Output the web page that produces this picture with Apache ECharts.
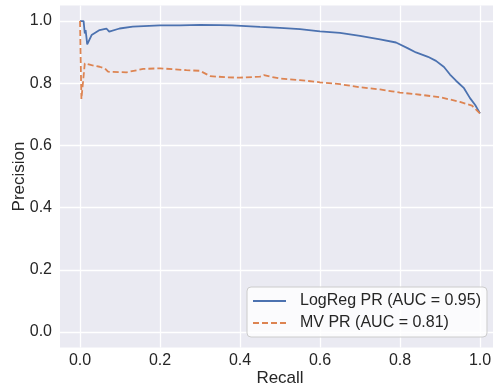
<!DOCTYPE html>
<html>
<head>
<meta charset="utf-8">
<script src="https://cdn.jsdelivr.net/npm/echarts@6/dist/echarts.min.js"></script>
<style>
  html, body { margin: 0; padding: 0; background: #fff; }
  #chart { width: 493px; height: 388px; }
</style>
</head>
<body>
<div id="chart"></div>
<script>
// values
const tickValues = [0, 0.2, 0.4, 0.6, 0.8, 1.0];

const logRegRecall = [0, 0.009, 0.012, 0.014, 0.016, 0.018, 0.029, 0.049, 0.066, 0.073, 0.099, 0.132, 0.2, 0.25, 0.3, 0.35, 0.38, 0.385, 0.45, 0.5, 0.55, 0.6, 0.65, 0.7, 0.75, 0.79, 0.82, 0.84, 0.87, 0.89, 0.91, 0.925, 0.94, 0.96, 0.975, 0.988, 1.0];
const logRegPrecision = [1.0, 1.0, 0.96, 0.971, 0.949, 0.925, 0.955, 0.971, 0.976, 0.966, 0.976, 0.982, 0.986, 0.986, 0.988, 0.987, 0.986, 0.98, 0.981, 0.978, 0.974, 0.967, 0.962, 0.952, 0.941, 0.931, 0.912, 0.899, 0.885, 0.872, 0.852, 0.828, 0.808, 0.784, 0.752, 0.73, 0.703];

const mvRecall = [0, 0.0035, 0.012, 0.029, 0.049, 0.062, 0.07, 0.116, 0.158, 0.2, 0.266, 0.3, 0.325, 0.366, 0.4, 0.45, 0.46, 0.48, 0.5, 0.55, 0.6, 0.65, 0.7, 0.75, 0.78, 0.8, 0.85, 0.9, 0.95, 0.98, 1.0];
const mvPrecision = [1.0, 0.749, 0.864, 0.858, 0.853, 0.848, 0.837, 0.835, 0.846, 0.848, 0.842, 0.84, 0.823, 0.819, 0.818, 0.821, 0.826, 0.82, 0.815, 0.81, 0.803, 0.797, 0.787, 0.78, 0.774, 0.77, 0.763, 0.755, 0.74, 0.728, 0.703];

const seriesNames = ['LogReg PR (AUC = 0.95)', 'MV PR (AUC = 0.81)'];

const textColor = '#262626';
const font = "'Liberation Sans', Arial, sans-serif";

const chart = echarts.init(document.getElementById('chart'), null, { renderer: 'canvas' });

const option = {
  animation: false,
  backgroundColor: '#ffffff',
  grid: {
    left: 60,
    top: 5.5,
    width: 440,
    height: 342,
    outerBoundsMode: 'none',
    containLabel: false,
    show: true,
    backgroundColor: '#EAEAF2',
    borderWidth: 0
  },
  xAxis: {
    type: 'value',
    min: -0.05,
    max: 1.05,
    name: 'Recall',
    nameLocation: 'middle',
    nameGap: 22,
    nameMoveOverlap: false,
    nameTextStyle: { color: textColor, fontSize: 17, fontFamily: font },
    axisLine: { show: false },
    axisTick: { show: false, customValues: tickValues },
    axisLabel: {
      customValues: tickValues,
      margin: 5,
      color: textColor,
      fontSize: 16,
      fontFamily: font,
      formatter: v => v.toFixed(1)
    },
    splitLine: { show: true, lineStyle: { color: '#ffffff', width: 1.3 } }
  },
  yAxis: {
    type: 'value',
    min: -0.05,
    max: 1.05,
    name: 'Precision',
    nameLocation: 'middle',
    nameGap: 32,
    nameMoveOverlap: false,
    nameTextStyle: { color: textColor, fontSize: 17, fontFamily: font },
    axisLine: { show: false },
    axisTick: { show: false, customValues: tickValues },
    axisLabel: {
      customValues: tickValues,
      margin: 8,
      color: textColor,
      fontSize: 16,
      fontFamily: font,
      formatter: v => v.toFixed(1)
    },
    splitLine: { show: true, lineStyle: { color: '#ffffff', width: 1.3 } }
  },
  legend: {
    orient: 'vertical',
    left: 247,
    top: 287,
    padding: [6, 6, 6, 5],
    itemWidth: 33,
    itemHeight: 16,
    itemGap: 6,
    itemStyle: { opacity: 0 },
    backgroundColor: 'rgba(255,255,255,0.8)',
    borderColor: '#cccccc',
    borderWidth: 1,
    borderRadius: 4,
    textStyle: {
      color: textColor,
      fontSize: 16,
      fontFamily: font,
      padding: [0, 0, 0, 9]
    },
    data: seriesNames
  },
  series: [
    {
      name: seriesNames[0],
      type: 'line',
      symbol: 'none',
      color: '#4C72B0',
      lineStyle: { width: 1.8, color: '#4C72B0' },
      data: logRegRecall.map((r, i) => [r, logRegPrecision[i]])
    },
    {
      name: seriesNames[1],
      type: 'line',
      symbol: 'none',
      color: '#DD8452',
      lineStyle: { width: 1.8, color: '#DD8452', type: [6, 3] },
      data: mvRecall.map((r, i) => [r, mvPrecision[i]])
    }
  ]
};

chart.setOption(option);
</script>
</body>
</html>
